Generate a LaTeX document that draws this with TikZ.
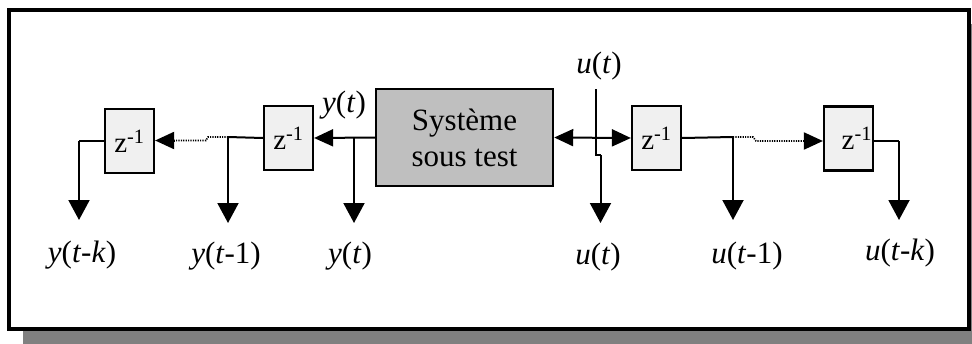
\documentclass[tikz,border=0pt]{standalone}
\usepackage{fontspec}
\setmainfont{Liberation Serif}
\usetikzlibrary{arrows.meta}
\begin{document}
\begin{tikzpicture}[x=1pt,y=-1pt,
  zbox/.style={draw=black,line width=2.2pt,fill=black!6,minimum width=49pt,minimum height=64pt,inner sep=0pt,font=\fontsize{29}{32}\selectfont},
  sysbox/.style={draw=black,line width=2.4pt,fill=black!25,minimum width=177pt,minimum height=97pt,inner sep=0pt,align=center,font=\fontsize{31}{36}\selectfont},
  lbl/.style={anchor=base,inner sep=0pt,font=\fontsize{31}{36}\selectfont},
  conn/.style={line width=2pt},
  dotline/.style={line width=1.6pt,dash pattern=on 1.2pt off 1.2pt},
  harr/.style={-{Triangle[length=19pt,width=17pt]}},
  varr/.style={-{Triangle[length=20pt,width=21pt]}}]
\useasboundingbox (0,0) rectangle (972,343);
% shadow and frame
\fill[black!50] (23,24) rectangle (990,360);
\draw[line width=4pt,fill=white] (9,10) rectangle (969,329);
% blocks
\node[sysbox] (sys) at (464.5,137.5) {Système\\sous test};
\node[zbox] (z1) at (129.5,141) {z\textsuperscript{-1}};
\node[zbox] (z2) at (288.5,138) {z\textsuperscript{-1}};
\node[zbox] (z3) at (656.5,138) {z\textsuperscript{-1}};
\node[zbox,text width=47pt,align=right] (z4) at (848.5,138.5) {z\textsuperscript{-1}};
% labels
\node[lbl] (lyk) at (82,262) {\textit{y}(\textit{t}-\textit{k})};
\node[lbl] (ly1) at (226,263) {\textit{y}(\textit{t}-1)};
\node[lbl] (lyt) at (350,263) {\textit{y}(\textit{t})};
\node[lbl] (lytop) at (344,112) {\textit{y}(\textit{t})};
\node[lbl] (lut) at (598,264) {\textit{u}(\textit{t})};
\node[lbl] (lutop) at (599,73) {\textit{u}(\textit{t})};
\node[lbl] (lu1) at (747,263) {\textit{u}(\textit{t}-1)};
\node[lbl] (luk) at (900,260) {\textit{u}(\textit{t}-\textit{k})};
% coordinates
\coordinate (by) at (354,137);
\coordinate (byd) at (354,223);
\coordinate (b1) at (228,137);
\coordinate (b1d) at (228,223);
\coordinate (d1) at (208,137);
\coordinate (d1b) at (206,140.5);
\coordinate (bk) at (79,141);
\coordinate (bkd) at (79,220);
\coordinate (uin) at (596,89);
\coordinate (uj1) at (596,155);
\coordinate (uj2) at (600.5,155);
\coordinate (ud) at (600.5,223);
\coordinate (b3) at (733,137);
\coordinate (b3d) at (733,220);
\coordinate (d3) at (753,137);
\coordinate (d3b) at (756,141);
\coordinate (b4) at (899,141);
\coordinate (b4d) at (899,220);
% connectors, y side
\draw[conn,harr] (sys.west) -- (z2.east);
\draw[conn,varr] (by) -- (byd);
\draw[conn] (z2.west) -- (b1);
\draw[conn,varr] (b1) -- (b1d);
\draw[dotline] (b1) -- (d1) -- (d1b) -- ([xshift=19pt,yshift=0.5pt]z1.east);
\draw[conn,harr] ([xshift=19pt,yshift=0.5pt]z1.east) -- ([yshift=0.5pt]z1.east);
\draw[conn] (z1.west) -- (bk);
\draw[conn,varr] (bk) -- (bkd);
% connectors, u side
\draw[conn,{Triangle[length=19pt,width=17pt]}-{Triangle[length=19pt,width=17pt]}] (sys.east) -- (z3.west);
\draw[line width=1.8pt] (uin) -- (uj1) -- (uj2);
\draw[conn,varr] (uj2) -- (ud);
\draw[conn] (z3.east) -- (b3);
\draw[conn,varr] (b3) -- (b3d);
\draw[dotline] (b3) -- (d3) -- (d3b) -- ([xshift=-19pt,yshift=-2.5pt]z4.west);
\draw[conn,harr] ([xshift=-19pt,yshift=-2.5pt]z4.west) -- ([yshift=-2.5pt]z4.west);
\draw[conn] ([yshift=-2.5pt]z4.east) -- (b4);
\draw[conn,varr] (b4) -- (b4d);
\end{tikzpicture}
\end{document}
